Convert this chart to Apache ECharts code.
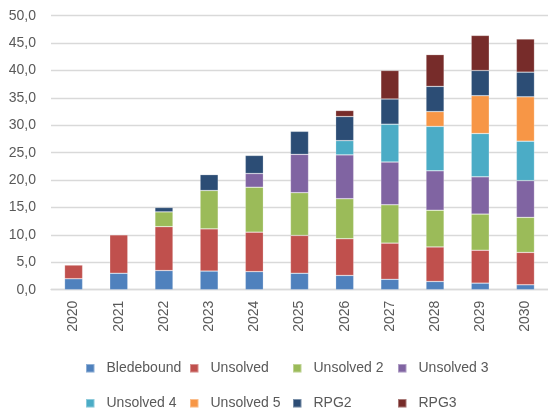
<!DOCTYPE html>
<html>
<head>
<meta charset="utf-8">
<script src="https://cdn.jsdelivr.net/npm/echarts@6/dist/echarts.min.js"></script>
<style>
  html, body { margin: 0; padding: 0; background: #fff; }
  #chart { width: 548px; height: 412px; }
</style>
</head>
<body>
<div id="chart"></div>
<script>
// Years on the category axis
const years = ['2020', '2021', '2022', '2023', '2024', '2025', '2026', '2027', '2028', '2029', '2030'];

// Stacked segment values per series (null = no segment that year)
const bledebound = [2.0, 3.0, 3.5, 3.4, 3.3, 3.0, 2.6, 1.9, 1.5, 1.2, 0.9];
const unsolved   = [2.5, 7.0, 8.0, 7.7, 7.2, 6.9, 6.7, 6.6, 6.3, 6.0, 5.9];
const unsolved2  = [null, null, 2.7, 7.0, 8.2, 7.8, 7.3, 7.0, 6.7, 6.6, 6.4];
const unsolved3  = [null, null, null, null, 2.5, 7.0, 8.0, 7.8, 7.2, 6.8, 6.7];
const unsolved4  = [null, null, null, null, null, null, 2.6, 6.9, 8.1, 7.9, 7.2];
const unsolved5  = [null, null, null, null, null, null, null, null, 2.7, 6.9, 8.1];
const rpg2       = [null, null, 0.8, 2.9, 3.3, 4.2, 4.4, 4.6, 4.6, 4.6, 4.5];
const rpg3       = [null, null, null, null, null, null, 1.1, 5.2, 5.8, 6.4, 6.05];

// Y axis ticks
const yTicks = { min: 0, max: 50, interval: 5 };

const seriesDefs = [
  { name: 'Bledebound', data: bledebound, color: '#4F81BD' },
  { name: 'Unsolved',   data: unsolved,   color: '#C0504D' },
  { name: 'Unsolved 2', data: unsolved2,  color: '#9BBB59' },
  { name: 'Unsolved 3', data: unsolved3,  color: '#8064A2' },
  { name: 'Unsolved 4', data: unsolved4,  color: '#4BACC6' },
  { name: 'Unsolved 5', data: unsolved5,  color: '#F79646' },
  { name: 'RPG2',       data: rpg2,       color: '#2C4D75' },
  { name: 'RPG3',       data: rpg3,       color: '#772C2A' }
];

const textColor = '#595959';
const fontFamily = '"Liberation Sans", Arial, sans-serif';

// Legend laid out as a 4-column grid, one legend component per entry
const legendCols = [85, 189, 292, 397];
const legendRows = [360.3, 395.3];
const legends = seriesDefs.map((s, i) => ({
  data: [s.name],
  left: legendCols[i % 4],
  top: legendRows[Math.floor(i / 4)],
  icon: 'rect',
  itemWidth: 8.5,
  itemHeight: 8.5,
  itemGap: 0,
  padding: 0,
  selectedMode: false,
  textStyle: { color: textColor, fontSize: 14, lineHeight: 16, fontFamily: fontFamily, padding: [0, 0, 0, 7] }
}));

const chart = echarts.init(document.getElementById('chart'), null, { renderer: 'canvas' });
chart.setOption({
  animation: false,
  backgroundColor: '#ffffff',
  grid: { left: 51, right: -3.5, top: 15.7, bottom: 122.3, containLabel: false },
  legend: legends,
  xAxis: {
    type: 'category',
    data: years,
    axisLine: { lineStyle: { color: '#D9D9D9', width: 1.3 } },
    axisTick: { show: false },
    axisLabel: {
      rotate: 90,
      margin: 11,
      color: textColor,
      fontSize: 14,
      fontFamily: fontFamily
    }
  },
  yAxis: {
    type: 'value',
    min: yTicks.min,
    max: yTicks.max,
    interval: yTicks.interval,
    axisLine: { show: false },
    axisTick: { show: false },
    splitLine: { lineStyle: { color: '#D9D9D9', width: 1.3 } },
    axisLabel: {
      margin: 15,
      color: textColor,
      fontSize: 14,
      fontFamily: fontFamily,
      formatter: v => v.toFixed(1).replace('.', ',')
    }
  },
  series: seriesDefs.map(s => ({
    name: s.name,
    type: 'bar',
    stack: 'total',
    barWidth: '40%',
    data: s.data,
    itemStyle: { color: s.color, borderColor: 'rgba(255,255,255,0.35)', borderWidth: 0.6 }
  }))
});
</script>
</body>
</html>
